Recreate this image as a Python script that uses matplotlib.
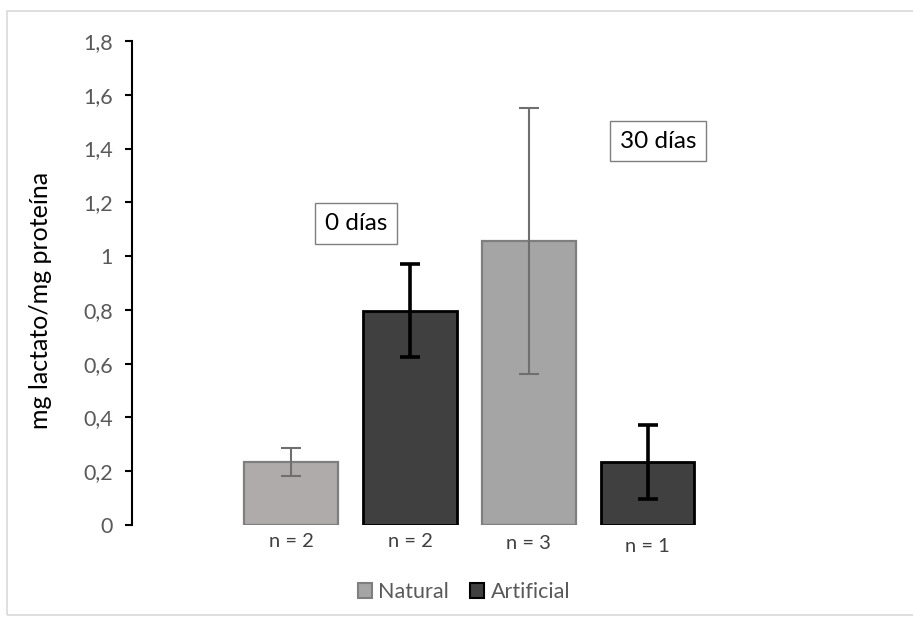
import matplotlib
matplotlib.use("Agg")
import matplotlib.pyplot as plt
from matplotlib.ticker import FuncFormatter
from matplotlib.patches import Rectangle, Patch

plt.rcParams['font.family'] = ['Lato', 'DejaVu Sans']

# data
groups = ["Natural", "Artificial", "Natural", "Artificial"]
values = [0.235, 0.796, 1.056, 0.234]
errors = [0.052, 0.173, 0.495, 0.138]
n_labels = ["n = 2", "n = 2", "n = 3", "n = 1"]
n_y = [-0.062, -0.062, -0.067, -0.081]
periods = ["0 días", "30 días"]
period_xy = [(0.545, 1.122), (3.09, 1.428)]

face = ["#AFABAB", "#404040", "#A5A5A5", "#404040"]
edge = ["#7F7F7F", "#000000", "#7F7F7F", "#000000"]
ecol = ["#6F6F6F", "#000000", "#6F6F6F", "#000000"]
elw = [1.5, 2.6, 1.5, 2.6]

W, H = 913, 619
fig = plt.figure(figsize=(W / 100, H / 100), dpi=100)
fig.patches.append(Rectangle((7 / W, 1 - 615 / H), 1.0, (615 - 11) / H,
                             transform=fig.transFigure, fill=False,
                             edgecolor="#D9D9D9", lw=1.2))

ax = fig.add_axes([132 / W, 1 - 525 / H, (802 - 132) / W, (525 - 41) / H])

xs = list(range(len(values)))
for i in xs:
    ax.bar(xs[i], values[i], width=0.79, color=face[i], edgecolor=edge[i],
           linewidth=1.6 if edge[i] != "#000000" else 2.0, zorder=2)
    ax.errorbar(xs[i], values[i], yerr=errors[i], fmt="none", ecolor=ecol[i],
                elinewidth=elw[i], capsize=7, capthick=elw[i], zorder=3)
    ax.text(xs[i], n_y[i], n_labels[i], ha="center", va="center",
            fontsize=14.5, color="#404040")

for txt, (px, py) in zip(periods, period_xy):
    ax.text(px, py, txt, ha="center", va="center", fontsize=17.5, color="black",
            bbox=dict(boxstyle="square,pad=0.4", facecolor="white",
                      edgecolor="#7F7F7F", lw=1.0))

ax.set_xlim(-1.34, 4.3)
ax.set_ylim(0, 1.8)
ax.set_yticks([0, 0.2, 0.4, 0.6, 0.8, 1.0, 1.2, 1.4, 1.6, 1.8])
ax.yaxis.set_major_formatter(FuncFormatter(
    lambda v, p: ("%g" % round(v, 1)).replace(".", ",")))
ax.set_xticks([])
for s in ["top", "right", "bottom"]:
    ax.spines[s].set_visible(False)
ax.spines["left"].set_linewidth(1.5)
ax.tick_params(axis="y", direction="out", length=4.8, width=1.5,
               labelsize=15.5, labelcolor="#595959", pad=9)
ax.set_ylabel("mg lactato/mg proteína", fontsize=18, color="black")
ax.yaxis.set_label_coords(-0.119, 0.465)

handles = [Patch(facecolor="#A5A5A5", edgecolor="#7F7F7F", lw=1.5),
           Patch(facecolor="#404040", edgecolor="#000000", lw=1.5)]
leg = fig.legend(handles, ["Natural", "Artificial"], loc="center",
                 bbox_to_anchor=(464 / W, 1 - 592 / H), ncol=2, frameon=False,
                 fontsize=15.5, handlelength=0.65, handleheight=0.65,
                 handletextpad=0.3, columnspacing=1.0)
for t in leg.get_texts():
    t.set_color("#595959")

fig.savefig("out.png", dpi=100)
